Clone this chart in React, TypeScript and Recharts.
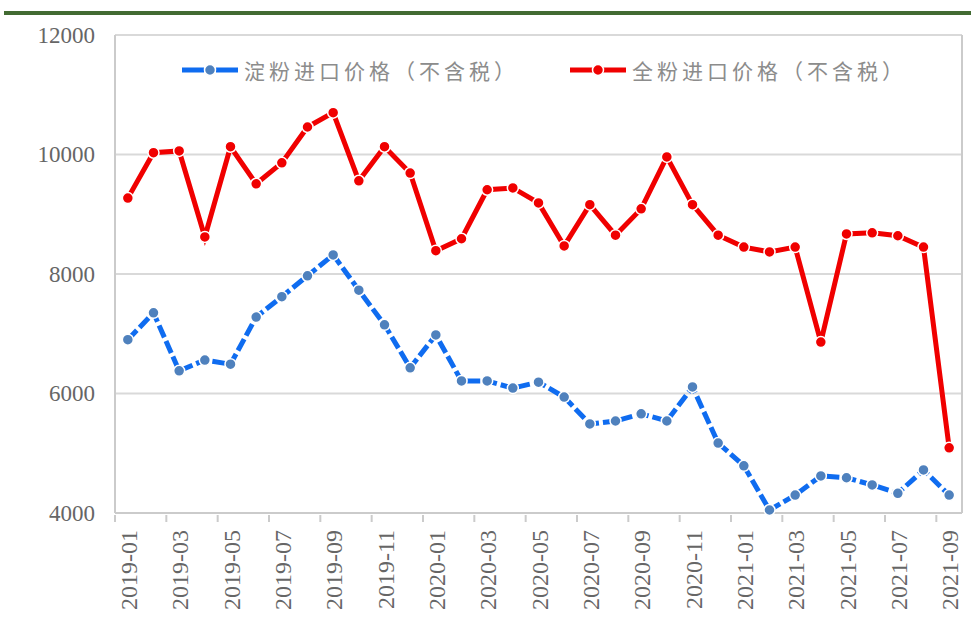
import React from "react";
import {
  CartesianGrid,
  Line,
  LineChart,
  XAxis,
  YAxis,
} from "recharts";

const months = [
  "2019-01", "2019-02", "2019-03", "2019-04", "2019-05", "2019-06",
  "2019-07", "2019-08", "2019-09", "2019-10", "2019-11", "2019-12",
  "2020-01", "2020-02", "2020-03", "2020-04", "2020-05", "2020-06",
  "2020-07", "2020-08", "2020-09", "2020-10", "2020-11", "2020-12",
  "2021-01", "2021-02", "2021-03", "2021-04", "2021-05", "2021-06",
  "2021-07", "2021-08", "2021-09",
];

// 淀粉进口价格（不含税）
const starchPrice = [
  6900, 7350, 6380, 6560, 6490, 7280, 7620, 7970, 8320, 7730, 7150, 6430,
  6980, 6210, 6210, 6090, 6190, 5940, 5490, 5540, 5660, 5540, 6110, 5170,
  4790, 4050, 4300, 4620, 4590, 4470, 4330, 4720, 4300,
];

// 全粉进口价格（不含税）
const flourPrice = [
  9270, 10030, 10060, 8620, 10130, 9510, 9860, 10460, 10700, 9560, 10130, 9690,
  8390, 8590, 9410, 9440, 9190, 8470, 9160, 8650, 9090, 9960, 9160, 8650,
  8450, 8370, 8450, 6860, 8670, 8690, 8640, 8450, 5090,
];

const yTicks = [4000, 6000, 8000, 10000, 12000];

const STARCH = "淀粉进口价格（不含税）";
const FLOUR = "全粉进口价格（不含税）";

const data = months.map((month, i) => ({
  month,
  starch: starchPrice[i],
  flour: flourPrice[i],
}));

const W = 971;
const H = 637;
const PLOT_LEFT = 115;
const PLOT_RIGHT = 962;
const band = (PLOT_RIGHT - PLOT_LEFT) / months.length;

const axisGray = "#cbcbcb";
const textGray = "#666666";
const blueLine = "#0f6cf0";
const blueDot = "#4f81bd";
const red = "#f00000";
const serif = "'Times New Roman', 'Liberation Serif', Tinos, 'DejaVu Serif', serif";

const MonthTick = (props: any) => {
  const { x, y, payload } = props;
  const tx = x - band / 2;
  return (
    <g>
      <line x1={tx} x2={tx} y1={y} y2={y + 7} stroke={axisGray} strokeWidth={2} />
      <text
        x={0}
        y={0}
        transform={`translate(${x + 1},${y + 15}) rotate(-90)`}
        textAnchor="end"
        dominantBaseline="central"
        fill={textGray}
        fontSize={24}
        fontFamily={serif}
      >
        {payload.value}
      </text>
    </g>
  );
};

const ValueTick = (props: any) => {
  const { x, y, payload } = props;
  return (
    <text
      x={x}
      y={y}
      textAnchor="end"
      dominantBaseline="central"
      fill={textGray}
      fontSize={23}
      fontFamily={serif}
    >
      {payload.value}
    </text>
  );
};

const LegendIcon = ({ color, dot, dashed }: { color: string; dot: string; dashed?: boolean }) => (
  <svg width={56} height={14} style={{ display: "block" }}>
    <line x1={0} x2={56} y1={7} y2={7} stroke={color} strokeWidth={5} strokeDasharray={dashed ? "22 12" : undefined} />
    <circle cx={28} cy={7} r={5.5} fill={dot} stroke="#fff" strokeWidth={1.5} />
  </svg>
);

const legendText: React.CSSProperties = {
  fontFamily: "'Noto Sans CJK SC', sans-serif",
  fontSize: 21,
  letterSpacing: 4,
  color: "#8c8c8c",
  marginLeft: 6,
  whiteSpace: "nowrap",
  lineHeight: "30px",
};

export default function App() {
  return (
    <div
      style={{
        position: "absolute",
        left: 0,
        top: 0,
        width: W,
        height: H,
        background: "#fff",
      }}
    >
      <div
        style={{
          position: "absolute",
          left: 4,
          top: 11,
          width: W - 4,
          height: 4,
          background: "#426b32",
        }}
      />
      <LineChart
        width={W}
        height={H}
        data={data}
        margin={{ top: 35, right: W - PLOT_RIGHT - 1, left: 0, bottom: 0 }}
      >
        <CartesianGrid vertical={false} stroke="#d9d9d9" strokeWidth={2} />
        <XAxis
          dataKey="month"
          height={H - 513}
          interval={1}
          tickSize={0}
          padding={{ left: band / 2, right: band / 2 }}
          axisLine={{ stroke: axisGray, strokeWidth: 2 }}
          tickLine={false}
          tick={<MonthTick />}
        />
        <YAxis
          width={PLOT_LEFT}
          domain={[4000, 12000]}
          ticks={yTicks}
          interval={0}
          axisLine={{ stroke: axisGray, strokeWidth: 2 }}
          tickLine={false}
          tickMargin={14}
          tick={<ValueTick />}
        />
        <YAxis
          yAxisId="r"
          orientation="right"
          width={1}
          domain={[4000, 12000]}
          tick={false}
          tickLine={false}
          axisLine={{ stroke: axisGray, strokeWidth: 2 }}
        />
        <Line
          dataKey="starch"
          name={STARCH}
          stroke={blueLine}
          strokeWidth={5}
          strokeDasharray="13 4"
          dot={{ r: 5.5, fill: blueDot, stroke: "#fff", strokeWidth: 1.5, strokeDasharray: "0" }}
          activeDot={false}
          isAnimationActive={false}
        />
        <Line
          dataKey="flour"
          name={FLOUR}
          stroke={red}
          strokeWidth={5}
          dot={{ r: 5.5, fill: red, stroke: "#fff", strokeWidth: 1.5 }}
          activeDot={false}
          isAnimationActive={false}
        />
      </LineChart>
      <div style={{ position: "absolute", left: 182, top: 55, display: "flex", alignItems: "center" }}>
        <LegendIcon color={blueLine} dot={blueDot} dashed />
        <span style={legendText}>{STARCH}</span>
      </div>
      <div style={{ position: "absolute", left: 570, top: 55, display: "flex", alignItems: "center" }}>
        <LegendIcon color={red} dot={red} />
        <span style={legendText}>{FLOUR}</span>
      </div>
    </div>
  );
}
